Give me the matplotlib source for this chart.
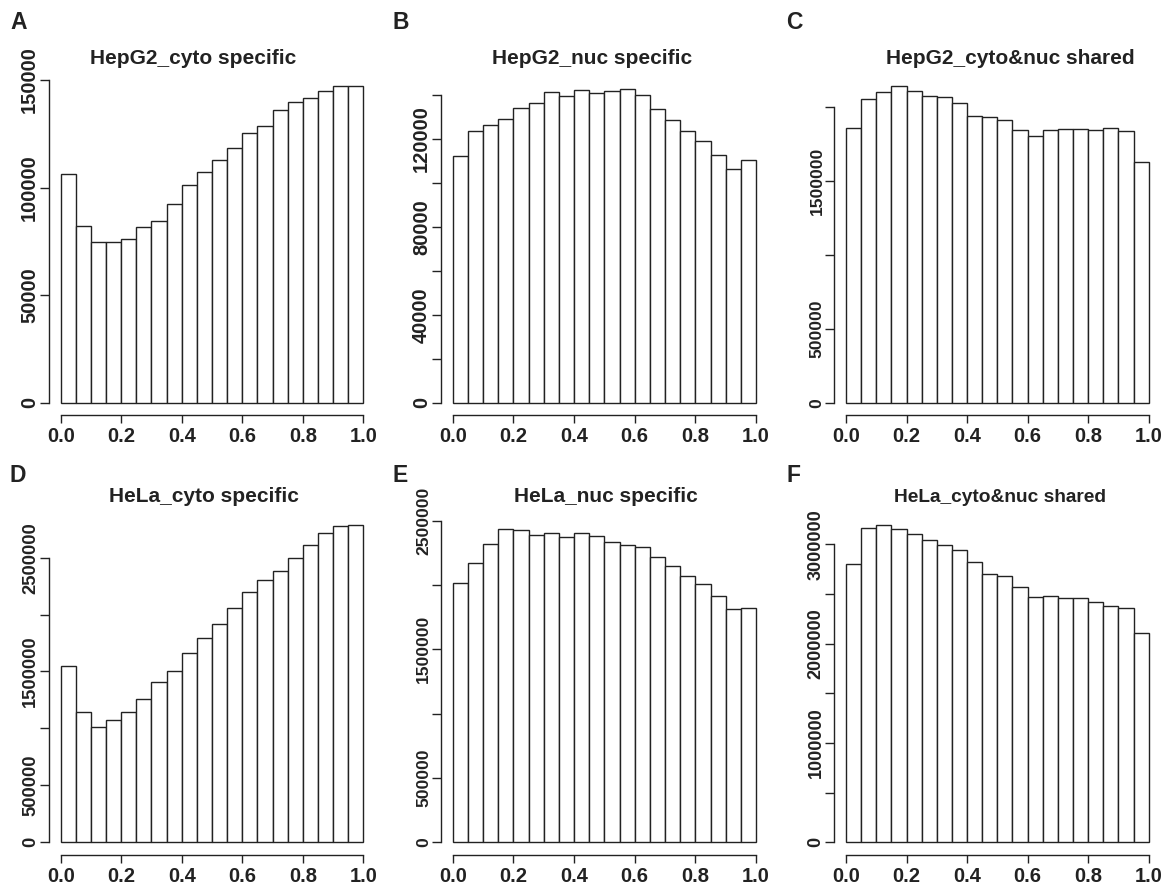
import matplotlib
matplotlib.use("Agg")
import matplotlib.pyplot as plt
import numpy as np

plt.rcParams['font.family'] = ['Liberation Sans', 'DejaVu Sans']
plt.rcParams['font.weight'] = 'bold'

# ---- data (counts per bin, 20 bins over [0, 1]) ----
bin_edges = [round(0.05 * i, 2) for i in range(21)]

hepg2_cyto = [106500, 82300, 74500, 74500, 75900, 81700, 84500, 92200, 101000, 107200,
              113000, 118400, 125400, 128500, 135900, 139600, 141600, 144700, 147400, 147100]
hepg2_nuc = [112100, 123300, 126000, 128800, 133900, 136200, 141000, 139500, 142000, 140600,
             141500, 142600, 140000, 133600, 128300, 123600, 118800, 112400, 106200, 110100]
hepg2_shared = [1858000, 2052000, 2097000, 2142000, 2103000, 2074000, 2063000, 2022000, 1935000, 1928000,
                1912000, 1844000, 1799000, 1844000, 1851000, 1851000, 1844000, 1858000, 1833000, 1626000]
hela_cyto = [1551000, 1142000, 1013000, 1077000, 1142000, 1262000, 1405000, 1502000, 1663000, 1794000,
             1917000, 2061000, 2195000, 2304000, 2383000, 2500000, 2611000, 2716000, 2778000, 2784000]
hela_nuc = [2018000, 2174000, 2316000, 2438000, 2428000, 2391000, 2407000, 2376000, 2407000, 2381000,
            2337000, 2311000, 2295000, 2220000, 2148000, 2070000, 2010000, 1917000, 1811000, 1819000]
hela_shared = [2799000, 3168000, 3191000, 3158000, 3107000, 3044000, 2990000, 2943000, 2826000, 2698000,
               2681000, 2574000, 2473000, 2483000, 2463000, 2463000, 2423000, 2376000, 2362000, 2107000]

titles = ["HepG2_cyto specific", "HepG2_nuc specific", "HepG2_cyto&nuc shared",
          "HeLa_cyto specific", "HeLa_nuc specific", "HeLa_cyto&nuc shared"]
letters = ["A", "B", "C", "D", "E", "F"]
series = [hepg2_cyto, hepg2_nuc, hepg2_shared, hela_cyto, hela_nuc, hela_shared]

yticks = [
    [0, 50000, 100000, 150000],
    [0, 20000, 40000, 60000, 80000, 100000, 120000, 140000],
    [0, 500000, 1000000, 1500000, 2000000],
    [0, 500000, 1000000, 1500000, 2000000, 2500000],
    [0, 500000, 1000000, 1500000, 2000000, 2500000],
    [0, 500000, 1000000, 1500000, 2000000, 2500000, 3000000],
]
ytick_labels = [
    ["0", "50000", "100000", "150000"],
    ["0", "", "40000", "", "80000", "", "120000", ""],
    ["0", "500000", "", "1500000", ""],
    ["0", "500000", "", "1500000", "", "2500000"],
    ["0", "500000", "", "1500000", "", "2500000"],
    ["0", "", "1000000", "", "2000000", "", "3000000"],
]
xticks = [0.0, 0.2, 0.4, 0.6, 0.8, 1.0]
xtick_labels = ["0.0", "0.2", "0.4", "0.6", "0.8", "1.0"]

# ---- layout (pixels) ----
W, H = 1168, 888
ylims = [(-5858, 153277), (-5727, 149849), (-85136, 2227700),
         (-111530, 2891900), (-98700, 2559300), (-127850, 3315100)]
col_lr = [(48.6, 375.4), (440.6, 768.2), (833.9, 1160.8)]
row_tb = [(73.0, 415.3), (513.0, 855.0)]
ylab_size = [14.5, 14.5, 12.6, 13.2, 12.6, 13.0]
title_cx = [193.3, 591.7, 1010.0, 203.7, 606.3, 999.7]
title_base = [64.0, 64.0, 64.0, 501.7, 501.7, 501.7]
title_size = [15.0, 15.0, 15.0, 15.0, 15.0, 13.8]
letter_x = [10.0, 393.0, 786.0, 9.5, 393.0, 786.5]
letter_base = [29.3, 29.3, 29.3, 481.7, 481.7, 481.7]

ink = "#222222"
fig = plt.figure(figsize=(W / 100, H / 100), dpi=100)
fig.patch.set_facecolor("white")

for i in range(6):
    r, c = divmod(i, 3)
    l, rr = col_lr[c]
    t, b = row_tb[r]
    ax = fig.add_axes([l / W, 1 - b / H, (rr - l) / W, (b - t) / H])
    ax.bar(bin_edges[:-1], series[i], width=0.05, align="edge",
           facecolor="white", edgecolor=ink, linewidth=1.0)
    ax.set_xlim(-0.04, 1.04)
    ax.set_ylim(*ylims[i])
    for s in ("top", "right"):
        ax.spines[s].set_visible(False)
    ax.spines["left"].set_bounds(yticks[i][0], yticks[i][-1])
    ax.spines["bottom"].set_bounds(0, 1)
    for s in ("left", "bottom"):
        ax.spines[s].set_linewidth(1.0)
        ax.spines[s].set_color(ink)
    ax.set_xticks(xticks)
    ax.set_xticklabels(xtick_labels, fontsize=14.5, fontweight="bold", color=ink)
    ax.set_yticks(yticks[i])
    ax.set_yticklabels(ytick_labels[i], fontsize=ylab_size[i], fontweight="bold",
                       color=ink, rotation=90, va="center")
    ax.tick_params(axis="x", direction="out", length=5.8, width=1.0, color=ink, pad=2.5)
    ax.tick_params(axis="y", direction="out", length=6.2, width=1.0, color=ink, pad=0.6)
    ax.patch.set_alpha(0)

    fig.text(title_cx[i] / W, 1 - title_base[i] / H, titles[i], ha="center", va="baseline",
             fontsize=title_size[i], fontweight="bold", color=ink)
    fig.text(letter_x[i] / W, 1 - letter_base[i] / H, letters[i], ha="left", va="baseline",
             fontsize=16.5, fontweight="bold", color=ink)

fig.savefig("out.png", dpi=100, facecolor="white")
